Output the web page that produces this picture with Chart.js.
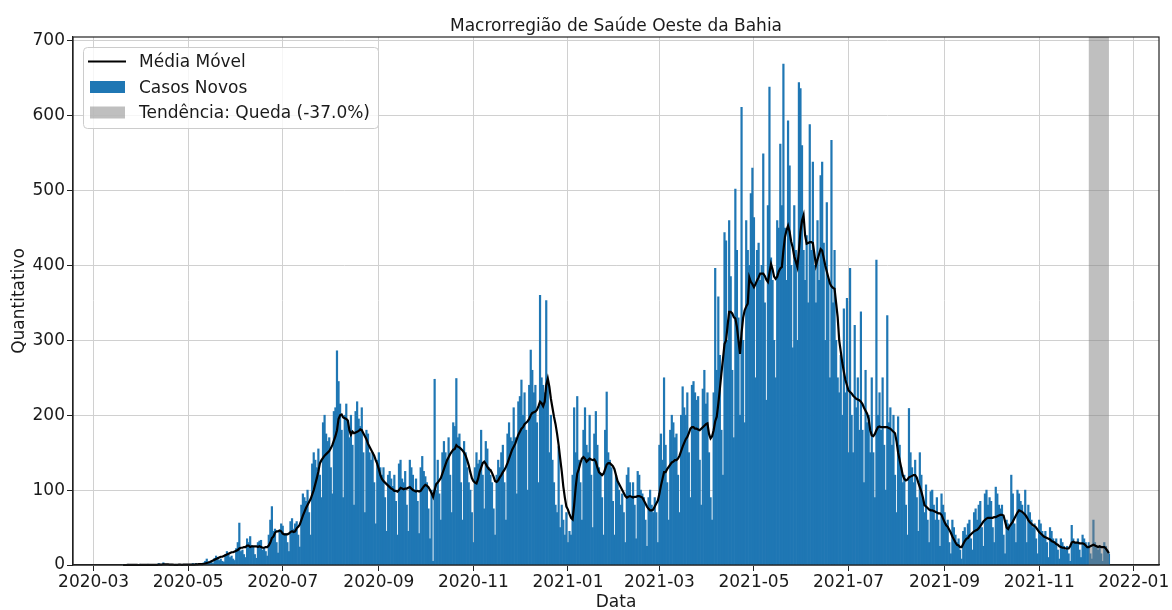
<!DOCTYPE html>
<html>
<head>
<meta charset="utf-8">
<script src="https://cdn.jsdelivr.net/npm/chart.js@4/dist/chart.umd.min.js"></script>
<style>
  html, body { margin: 0; padding: 0; background: #fff; }
</style>
</head>
<body>
<canvas id="chart" width="1172" height="610"></canvas>
<script>
const chartTitle = 'Macrorregião de Saúde Oeste da Bahia';
const seriesLabels = ['Média Móvel', 'Casos Novos', 'Tendência: Queda (-37.0%)'];
const tickLabels = ['2020-03', '2020-05', '2020-07', '2020-09', '2020-11', '2021-01',
                    '2021-03', '2021-05', '2021-07', '2021-09', '2021-11', '2022-01'];
const yTicks = [0, 100, 200, 300, 400, 500, 600, 700];
const firstDay = '2020-03-20';
const trendStart = '2021-12-03';
const trendEnd = '2021-12-16';

// one row per week, starting at firstDay
const casosNovos = [
  0,0,0,1,0,0,0,
  0,0,0,0,1,0,0,
  0,0,1,0,0,0,0,
  0,0,2,1,0,3,0,
  0,0,0,1,0,0,1,
  0,1,0,0,1,0,1,
  0,1,0,2,1,2,0,
  2,1,0,3,5,8,4,
  3,4,2,9,12,10,6,
  8,5,4,14,18,15,10,
  12,8,6,22,30,56,18,
  20,14,10,35,30,38,26,
  24,14,9,30,32,33,20,
  22,18,12,40,60,78,45,
  48,30,16,45,55,52,40,
  42,30,18,58,62,48,55,
  58,40,24,80,95,90,85,
  100,70,40,135,150,140,130,
  155,120,90,190,200,175,165,
  170,130,95,205,210,286,245,
  215,180,90,200,215,190,170,
  200,160,80,205,218,195,185,
  210,150,70,180,175,150,140,
  150,110,55,140,150,130,120,
  130,90,45,120,125,115,105,
  120,85,40,135,140,115,110,
  125,80,45,140,130,120,100,
  115,85,42,130,145,125,118,
  110,75,35,100,5,248,100,
  140,95,60,150,165,150,140,
  170,120,70,190,185,249,170,
  175,110,60,165,150,130,110,
  100,70,30,130,150,135,140,
  180,120,75,165,155,130,120,
  110,75,40,120,140,130,150,
  160,110,60,175,190,170,165,
  210,170,95,218,225,247,200,
  230,180,100,240,287,260,230,
  240,190,110,360,250,240,230,
  353,245,150,200,140,110,80,
  70,158,50,80,60,40,70,
  30,45,40,120,210,150,225,
  140,110,60,180,210,160,150,
  200,120,50,175,205,160,130,
  120,90,40,180,231,150,140,
  130,85,40,120,110,100,80,
  95,70,30,120,130,110,90,
  110,80,35,125,120,100,95,
  90,60,25,90,100,80,70,
  90,70,30,160,175,140,250,
  160,110,60,180,200,190,170,
  175,120,70,200,238,210,200,
  230,150,90,240,245,230,220,
  225,140,80,235,260,215,230,
  150,90,60,230,396,260,358,
  280,180,120,444,433,300,460,
  385,260,170,502,420,330,200,
  611,300,190,460,420,400,496,
  530,464,250,420,430,380,400,
  549,350,220,480,638,410,380,
  300,250,460,450,562,480,669,
  450,380,593,533,400,290,480,
  420,300,644,636,560,420,380,
  440,350,588,420,538,400,350,
  460,380,520,538,430,300,484,
  380,250,567,350,420,300,250,
  230,280,200,342,230,356,150,
  396,200,150,320,210,250,180,
  338,180,110,260,190,200,150,
  250,150,90,407,200,230,180,
  250,160,100,333,190,210,160,
  200,120,70,198,160,130,110,
  120,80,40,209,150,130,110,
  140,90,45,150,120,90,70,
  107,60,30,98,100,80,60,
  90,60,25,95,80,70,55,
  60,30,15,60,50,40,30,
  35,20,8,45,50,40,55,
  60,35,20,70,75,60,80,
  85,50,25,95,100,80,90,
  85,50,30,104,95,80,75,
  80,40,15,60,55,50,120,
  95,55,30,100,95,85,80,
  70,100,30,80,70,60,50,
  55,35,15,60,55,45,40,
  45,30,10,50,45,35,30,
  35,20,8,35,30,25,20,
  25,15,5,53,35,30,30,
  35,20,10,40,35,30,25,
  30,15,8,60,30,25,20,
  25,15,5,30,25,20,15
];

const mediaMovel = [
  0,0,0,0.1,0.1,0.1,0.1,
  0.1,0.1,0.1,0,0.1,0.1,0.1,
  0.1,0.1,0.3,0.3,0.3,0.3,0.3,
  0.1,0.1,0.4,0.6,0.6,1,0.9,
  0.9,0.9,0.6,0.6,0.6,0.1,0.3,
  0.3,0.4,0.4,0.3,0.4,0.4,0.4,
  0.4,0.4,0.4,0.6,0.6,0.9,0.9,
  1.1,1.1,1.1,1.3,2,2.7,3.3,
  4,5,6,7,8,9,10,
  11,11,12,13,14,15,16,
  17,17,18,19,20,22,23,
  23,24,24,26,26,24,25,
  25,25,25,24,25,24,23,
  23,24,24,26,30,36,38,
  43,45,45,46,45,42,41,
  41,41,42,44,45,44,45,
  49,51,54,60,66,71,76,
  80,84,88,94,100,108,116,
  125,136,140,143,146,148,150,
  152,156,160,166,172,180,195,
  200,201,197,196,195,193,180,
  174,178,176,177,178,179,181,
  180,176,172,168,162,158,154,
  150,146,140,135,128,120,115,
  112,110,108,106,104,102,101,
  99,99,98,100,103,102,101,
  102,102,103,104,102,100,99,
  98,99,98,99,102,105,107,
  106,104,100,96,91,100,108,
  110,113,116,122,128,134,140,
  144,148,151,154,155,160,158,
  157,155,153,150,146,140,133,
  124,116,112,110,109,115,124,
  130,136,138,135,131,128,127,
  123,118,112,111,113,117,120,
  124,127,131,136,142,148,154,
  158,162,168,174,178,182,184,
  188,190,192,195,200,203,204,
  205,207,212,218,216,212,218,
  240,249,238,222,210,198,188,
  175,160,142,125,105,90,78,
  74,68,63,61,80,104,122,
  128,136,142,144,142,138,140,
  142,141,140,141,138,130,124,
  122,120,122,128,134,136,136,
  134,132,128,120,112,108,104,
  100,96,92,90,91,92,91,
  90,91,91,92,92,91,90,
  86,82,78,75,73,73,74,
  78,82,86,95,106,115,124,
  124,128,131,134,137,138,140,
  140,142,146,152,158,163,168,
  171,176,182,184,184,182,182,
  181,180,182,184,186,188,189,
  175,169,172,180,192,198,215,
  235,256,275,295,300,320,338,
  338,336,331,329,318,300,282,
  310,330,340,345,349,384,378,
  375,371,375,380,384,389,389,
  389,386,381,378,390,402,395,
  385,382,385,392,396,398,420,
  438,447,453,445,432,424,412,
  405,398,420,445,460,467,440,
  429,430,431,431,430,415,400,
  408,415,422,420,410,400,392,
  384,376,372,370,369,350,331,
  300,285,270,258,247,240,233,
  231,229,226,224,222,221,220,
  218,215,210,206,202,195,180,
  173,172,175,180,184,185,184,
  184,184,184,184,183,182,180,
  178,176,165,150,140,130,120,
  115,113,114,117,118,119,120,
  120,117,110,104,98,90,80,
  78,76,74,73,73,72,71,
  70,69,69,67,62,57,53,
  51,47,43,38,34,30,27,
  26,24,24,28,32,35,36,
  39,41,43,45,46,47,49,
  52,55,58,60,62,63,63,
  63,63,64,64,65,66,67,
  67,66,58,50,48,52,55,
  58,62,66,70,73,72,71,
  69,67,64,60,57,55,53,
  52,50,47,44,42,40,38,
  37,36,35,34,32,31,30,
  28,27,25,24,23,23,22,
  22,22,25,30,31,30,30,
  30,29,29,29,28,26,24,
  24,25,26,27,26,25,24,
  25,24,24,24,22,19,16
];

const barColor = '#1f77b4';
const bandColor = 'rgba(128,128,128,0.5)';
const gridColor = '#d0d0d0';
const inkColor = '#1a1a1a';
const fontFamily = '"DejaVu Sans", sans-serif';

// days counted from 2020-03-01
const BASE = Date.UTC(2020, 2, 1);
function dayNum(s) {
  const p = s.split('-').map(Number);
  return (Date.UTC(p[0], p[1] - 1, p[2] || 1) - BASE) / 86400000;
}

const start = dayNum(firstDay);
const barPoints = casosNovos.map((v, i) => ({x: start + i, y: v}));
const linePoints = mediaMovel.map((v, i) => ({x: start + i, y: v}));
const tickDays = tickLabels.map(dayNum);

Chart.defaults.font.family = fontFamily;
Chart.defaults.font.size = 17;
Chart.defaults.color = inkColor;

const decorations = {
  id: 'decorations',
  afterDatasetDraw(chart, args) {
    if (args.index !== 1) return;
    const {ctx, chartArea: a, scales: {x}} = chart;
    const x0 = x.getPixelForValue(dayNum(trendStart));
    const x1 = x.getPixelForValue(dayNum(trendEnd));
    ctx.save();
    ctx.fillStyle = bandColor;
    ctx.fillRect(x0, a.top, x1 - x0, a.bottom - a.top);
    ctx.restore();
  },
  afterDraw(chart) {
    const {ctx, chartArea: a} = chart;
    ctx.save();

    // axes frame
    ctx.strokeStyle = '#222';
    ctx.lineWidth = 1.2;
    ctx.strokeRect(a.left, a.top, a.right - a.left, a.bottom - a.top);

    // title
    ctx.font = '17px ' + fontFamily;
    ctx.fillStyle = inkColor;
    ctx.textAlign = 'center';
    ctx.textBaseline = 'alphabetic';
    ctx.fillText(chartTitle, (a.left + a.right) / 2, 31);

    // legend
    const textW = Math.max(...seriesLabels.map(t => ctx.measureText(t).width));
    const lx = a.left + 10, ly = a.top + 10;
    const lw = 56 + textW + 8, lh = 81;
    ctx.beginPath();
    ctx.roundRect(lx + 0.5, ly + 0.5, lw, lh, 4);
    ctx.fillStyle = 'rgba(255,255,255,0.8)';
    ctx.fill();
    ctx.strokeStyle = '#cccccc';
    ctx.lineWidth = 1;
    ctx.stroke();

    const rows = [ly + 20, ly + 45.5, ly + 71];
    ctx.strokeStyle = '#000';
    ctx.lineWidth = 2.2;
    ctx.beginPath();
    ctx.moveTo(lx + 5, rows[0] - 5.5);
    ctx.lineTo(lx + 43, rows[0] - 5.5);
    ctx.stroke();
    ctx.fillStyle = barColor;
    ctx.fillRect(lx + 7, rows[1] - 11.5, 35, 12);
    ctx.fillStyle = bandColor;
    ctx.fillRect(lx + 7, rows[2] - 11.5, 35, 12);

    ctx.fillStyle = inkColor;
    ctx.textAlign = 'left';
    seriesLabels.forEach((t, i) => ctx.fillText(t, lx + 56, rows[i]));
    ctx.restore();
  }
};

new Chart(document.getElementById('chart'), {
  type: 'bar',
  data: {
    datasets: [
      {
        type: 'line',
        label: seriesLabels[0],
        data: linePoints,
        borderColor: '#000',
        borderWidth: 2.2,
        pointRadius: 0,
        tension: 0,
        clip: false,
        order: 1
      },
      {
        type: 'bar',
        label: seriesLabels[1],
        data: barPoints,
        backgroundColor: barColor,
        borderWidth: 0,
        barPercentage: 1,
        categoryPercentage: 1,
        order: 2
      }
    ]
  },
  options: {
    responsive: false,
    animation: false,
    layout: { padding: { left: 0, right: 13, top: 37, bottom: 0 } },
    plugins: {
      legend: { display: false },
      title: { display: false },
      tooltip: { enabled: false }
    },
    scales: {
      x: {
        type: 'linear',
        offset: false,
        min: -13.3,
        max: 687.3,
        afterBuildTicks: s => { s.ticks = tickDays.map(v => ({value: v})); },
        afterFit: s => { s.height = 45; },
        ticks: {
          autoSkip: false,
          maxRotation: 0,
          padding: 1,
          callback: (v, i) => tickLabels[i]
        },
        grid: { offset: false, color: gridColor, lineWidth: 1, tickLength: 6, tickColor: '#222', tickWidth: 1 },
        border: { color: '#222', width: 1.2 },
        title: { display: true, text: 'Data', padding: { top: 0, bottom: -3 } }
      },
      y: {
        min: 0,
        max: 705,
        afterBuildTicks: s => { s.ticks = yTicks.map(v => ({value: v})); },
        afterFit: s => { s.width = 73; },
        ticks: { padding: 2, callback: v => String(v) },
        grid: { color: gridColor, lineWidth: 1, tickLength: 6, tickColor: '#222', tickWidth: 1 },
        border: { color: '#222', width: 1.2 },
        title: { display: true, text: 'Quantitativo', padding: { top: 9, bottom: 0 } }
      }
    }
  },
  plugins: [decorations]
});
</script>
</body>
</html>
